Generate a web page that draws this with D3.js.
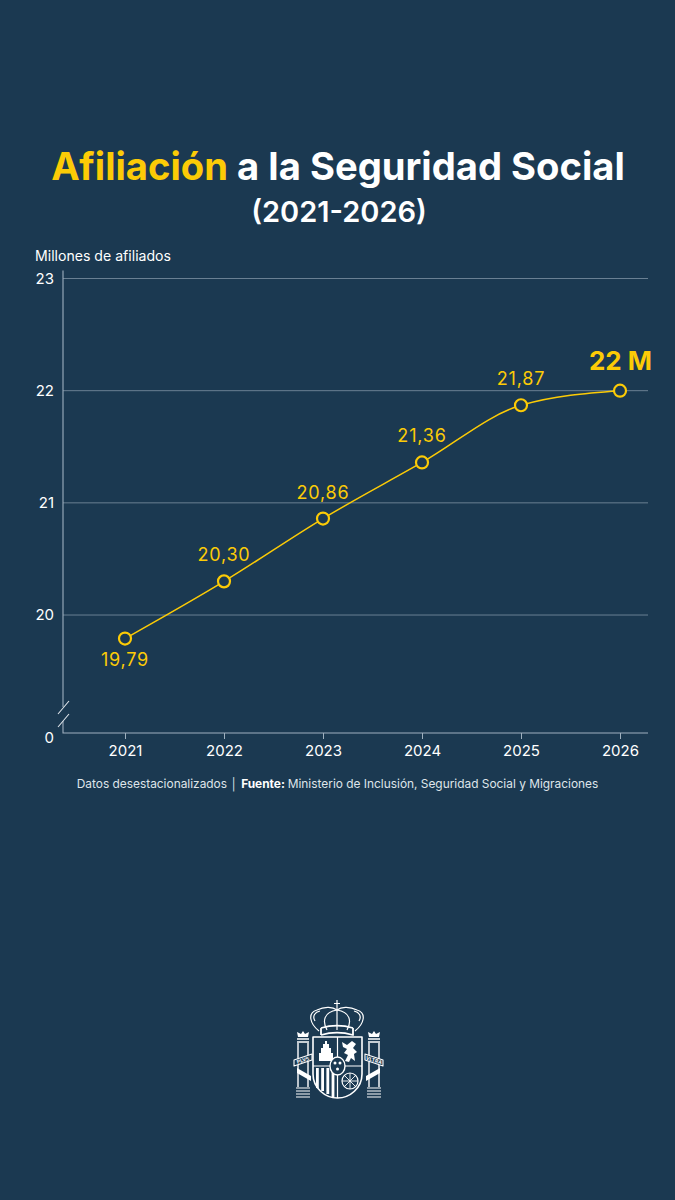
<!DOCTYPE html>
<html lang="es">
<head>
<meta charset="utf-8">
<script src="https://cdn.jsdelivr.net/npm/d3@7"></script>
<style>
  html, body { margin: 0; background: #1b3951; }
  svg { display: block; font-family: Inter, "Noto Sans", sans-serif; }
</style>
</head>
<body>
<svg id="chart" width="675" height="1200"></svg>
<script>
const years = [2021, 2022, 2023, 2024, 2025, 2026];
const afiliados = [19.79, 20.30, 20.86, 21.36, 21.87, 22.0];
const labels = ["19,79", "20,30", "20,86", "21,36", "21,87", "22 M"];
const yTicks = [0, 20, 21, 22, 23];
const gridTicks = [20, 21, 22, 23];

const yellow = "#fccb06";
const white = "#ffffff";
const axisColor = "#9fb0bf";
const gridColor = "#7f93a5";

const svg = d3.select("#chart");
svg.append("rect").attr("width", 675).attr("height", 1200).attr("fill", "#1b3951");

// title
const title = svg.append("text")
  .attr("x", 338).attr("y", 180)
  .attr("text-anchor", "middle")
  .attr("font-size", 38.2).attr("font-weight", 700)
  .attr("fill", white);
title.append("tspan").attr("fill", yellow).text("Afiliación");
title.append("tspan").text(" a la Seguridad Social");

svg.append("text")
  .attr("x", 339).attr("y", 222)
  .attr("text-anchor", "middle")
  .attr("font-size", 29).attr("font-weight", 600)
  .attr("fill", white)
  .text("(2021-2026)");

svg.append("text")
  .attr("x", 35).attr("y", 261)
  .attr("font-size", 14.1)
  .attr("fill", white)
  .text("Millones de afiliados");

// scales: the y axis is broken between 0 and 19
const x = d3.scaleLinear().domain([2021, 2026]).range([125, 620]);
const y = d3.scaleLinear().domain([0, 19, 23]).range([733, 727.2, 278.5]);
const left = 63, right = 648;

// grid
svg.append("g")
  .selectAll("line")
  .data(gridTicks)
  .join("line")
  .attr("x1", left).attr("x2", right)
  .attr("y1", d => y(d)).attr("y2", d => y(d))
  .attr("stroke", gridColor).attr("stroke-width", 0.8);

// y axis
const yAxis = svg.append("g")
  .attr("transform", `translate(${left},0)`)
  .call(d3.axisLeft(y).tickValues(yTicks).tickSize(0).tickPadding(9).tickFormat(d3.format("d")));
yAxis.select(".domain").remove();
yAxis.selectAll("text")
  .attr("fill", white).attr("font-size", 15).attr("font-family", "Inter, sans-serif");
yAxis.selectAll(".tick").filter(d => d === 0).select("text").attr("dy", "0.62em");

const axisLines = svg.append("g").attr("stroke", axisColor).attr("stroke-width", 1.1).attr("fill", "none");
axisLines.append("path").attr("d", `M${left},${y(23) - 8}V707`);
axisLines.append("path").attr("d", `M${left},721V733H${right}`);
// break marks
axisLines.append("path").attr("d", "M58,714L69,701M58,727L69,714").attr("stroke", "#dfe5ea");

// x axis
const xAxis = svg.append("g")
  .attr("transform", "translate(0,733)")
  .call(d3.axisBottom(x).tickValues(years).tickSize(6).tickPadding(6).tickFormat(d3.format("d")));
xAxis.select(".domain").remove();
xAxis.selectAll("line").attr("stroke", axisColor);
xAxis.selectAll("text")
  .attr("fill", white).attr("font-size", 15).attr("font-family", "Inter, sans-serif");

// line
const points = years.map((year, i) => ({ year, value: afiliados[i], label: labels[i] }));
const line = d3.line()
  .x(d => x(d.year))
  .y(d => y(d.value))
  .curve(d3.curveMonotoneX);

svg.append("path")
  .datum(points)
  .attr("d", line)
  .attr("fill", "none")
  .attr("stroke", yellow)
  .attr("stroke-width", 1.5);

svg.append("g")
  .selectAll("circle")
  .data(points)
  .join("circle")
  .attr("cx", d => x(d.year))
  .attr("cy", d => y(d.value))
  .attr("r", 6)
  .attr("fill", "#1b3951")
  .attr("stroke", yellow)
  .attr("stroke-width", 2.2);

svg.append("g")
  .selectAll("text")
  .data(points)
  .join("text")
  .attr("x", d => d.year === 2026 ? x(d.year) + 0.5 : x(d.year))
  .attr("y", d => d.year === 2021 ? y(d.value) + 27 : d.year === 2026 ? y(d.value) - 21 : y(d.value) - 20)
  .attr("text-anchor", "middle")
  .attr("fill", yellow)
  .attr("font-size", d => d.year === 2026 ? 26 : 18)
  .attr("font-weight", d => d.year === 2026 ? 700 : 400)
  .attr("letter-spacing", d => d.year === 2026 ? 0 : 0.8)
  .text(d => d.label);

// source
const source = svg.append("text")
  .attr("x", 337.5).attr("y", 788)
  .attr("text-anchor", "middle")
  .attr("font-size", 11.9)
  .attr("fill", "#dfe5ea");
source.append("tspan").text("Datos desestacionalizados │ ");
source.append("tspan").attr("font-weight", 700).attr("fill", white).text("Fuente: ");
source.append("tspan").text("Ministerio de Inclusión, Seguridad Social y Migraciones");

// coat of arms, simplified line drawing
const arms = svg.append("g")
  .attr("fill", "none")
  .attr("stroke", white)
  .attr("stroke-width", 1.2)
  .attr("stroke-linejoin", "round");

// crown
arms.append("path").attr("d", "M337,1000V1010M334,1003.5H340");
arms.append("path").attr("d", "M319,1031C310,1024 307,1013 317,1010C325,1006 333,1007 337,1010C341,1007 349,1006 357,1010C367,1013 364,1024 355,1031");
arms.append("path").attr("d", "M327,1030C322,1021 324,1012 337,1010C350,1012 352,1021 347,1030M337,1010V1030");
arms.append("path").attr("d", "M315,1021C312,1016 315,1012 320,1011M359,1021C362,1016 359,1012 354,1011");
arms.append("path").attr("d", "M321,1028C331,1025 343,1025 353,1028M321,1035C331,1032 343,1032 353,1035V1028M321,1035V1028").attr("stroke-width", 1.8);

// shield
arms.append("path").attr("d", "M313,1037H362V1074C362,1088 350,1098 337.5,1098C325,1098 313,1088 313,1074Z").attr("stroke-width", 1.6);
arms.append("path").attr("d", "M337.5,1037V1098M313,1066H362");

// Castilla
arms.append("path").attr("fill", white).attr("stroke", "none")
  .attr("d", "M319,1061V1053H321V1048H323V1044H325V1041H327V1044H329V1048H331V1053H333V1061Z");
// Leon
arms.append("path").attr("fill", white).attr("stroke", "none")
  .attr("d", "M342,1042L347,1045L352,1041L356,1044L353,1048L357,1052L354,1054L355,1061L351,1058L349,1062L345,1061L348,1055L344,1053L347,1049L343,1047Z");
// Aragon
arms.append("g").selectAll("rect").data([0, 1, 2, 3]).join("rect")
  .attr("x", d => 316 + d * 5.2).attr("y", 1068).attr("width", 2.8)
  .attr("height", d => 20 + d * 3)
  .attr("fill", white).attr("stroke", "none");
// Navarra
arms.append("circle").attr("cx", 350).attr("cy", 1081).attr("r", 8);
arms.append("path").attr("stroke-width", 0.9).attr("d", "M342,1081H358M350,1073V1089M344,1075L356,1087M356,1075L344,1087");
// escutcheon
arms.append("ellipse").attr("cx", 337.5).attr("cy", 1066).attr("rx", 7.5).attr("ry", 9)
  .attr("fill", "#1b3951").attr("stroke-width", 1.4);
arms.append("g").selectAll("circle").data([[335, 1063], [340, 1063], [337.5, 1069]]).join("circle")
  .attr("cx", d => d[0]).attr("cy", d => d[1]).attr("r", 1.5)
  .attr("fill", white).attr("stroke", "none");

// pillars
[303, 374].forEach((cx, i) => {
  const p = arms.append("g");
  p.append("path").attr("d", `M${cx - 5},1043V1087M${cx + 5},1043V1087`).attr("stroke-width", 1.4);
  p.append("path").attr("d", `M${cx - 6},1042H${cx + 6}M${cx - 6},1039H${cx + 6}`).attr("stroke-width", 1.6);
  p.append("path").attr("d", `M${cx - 5},1037L${cx - 6},1032L${cx - 2},1034L${cx},1031L${cx + 2},1034L${cx + 6},1032L${cx + 5},1037Z`).attr("fill", white).attr("stroke", "none");
  p.append("path").attr("d", `M${cx - 7},1088H${cx + 7}M${cx - 7},1091H${cx + 7}M${cx - 7},1094H${cx + 7}M${cx - 7},1097H${cx + 7}`);
  const dir = i === 0 ? 1 : -1;
  p.append("path")
    .attr("d", `M${cx - 9 * dir},1060L${cx + 9 * dir},1054L${cx + 9 * dir},1060L${cx - 9 * dir},1066Z`)
    .attr("fill", "#1b3951").attr("stroke-width", 1.1);
  p.append("path")
    .attr("d", `M${cx - 6 * dir},1068L${cx + 8 * dir},1076L${cx + 8 * dir},1081L${cx - 6 * dir},1073Z`)
    .attr("fill", white).attr("stroke", "none");
  p.append("text")
    .attr("x", cx).attr("y", 1062).attr("text-anchor", "middle")
    .attr("font-size", 5).attr("font-weight", 700)
    .attr("fill", white).attr("stroke", "none")
    .attr("transform", `rotate(${-18 * dir},${cx},1060)`)
    .text(i === 0 ? "PLVS" : "VLTRA");
});
</script>
</body>
</html>
